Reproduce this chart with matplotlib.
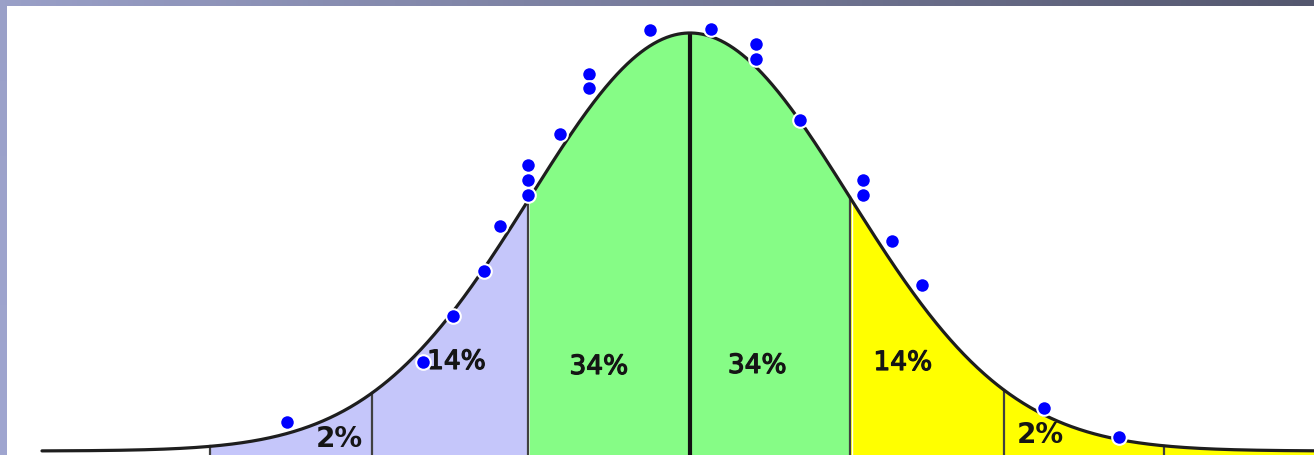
import numpy as np
import matplotlib
matplotlib.use("Agg")
import matplotlib.pyplot as plt
import matplotlib.patheffects as pe

# ---- data (x in standard-deviation units, y in density units) ----
boundaries = [-3.0, -1.99, -1.01, 0.0, 1.0, 1.96, 2.96]   # drawn division lines
region_labels = ["2%", "14%", "34%", "34%", "14%", "2%"]
label_x = [-2.19, -1.46, -0.57, 0.42, 1.33, 2.19]
label_y = [0.0124, 0.0850, 0.0802, 0.0812, 0.0840, 0.0162]

point_x = [-0.25, 0.13, 0.41, 0.41, -0.63, -0.63, -0.81, 0.69, -1.01, -1.01,
           -1.01, 1.08, 1.08, -1.19, 1.26, -1.29, 1.45, -1.48, -1.67, -2.52,
           2.21, 2.68]
point_y = [0.402, 0.403, 0.388, 0.374, 0.360, 0.346, 0.303, 0.316, 0.273, 0.259,
           0.244, 0.259, 0.244, 0.215, 0.200, 0.172, 0.158, 0.129, 0.085, 0.028,
           0.041, 0.013]

curve_start = -4.05

W, H = 1314, 456
fig = plt.figure(figsize=(W / 100, H / 100), dpi=100)
fig.patch.set_facecolor("white")
ax = fig.add_axes([0, 0, 1, 1])
ax.set_xlim(-690 / 160, (W - 690) / 160)
ax.set_ylim(-4 / 1047.8, 452 / 1047.8)
ax.axis("off")

def pdf(z):
    return np.exp(-0.5 * np.asarray(z) ** 2) / np.sqrt(2 * np.pi)

x_right = (W - 690) / 160 + 0.1
z = np.linspace(curve_start, x_right, 1500)

lav, green, yellow = "#c5c6fa", "#86fc86", "#ffff00"
ybot = -0.01
m = (z >= boundaries[0]) & (z <= boundaries[2])
ax.fill_between(z[m], ybot, pdf(z[m]), color=lav, lw=0, zorder=1)
m = (z >= boundaries[2]) & (z <= boundaries[4])
ax.fill_between(z[m], ybot, pdf(z[m]), color=green, lw=0, zorder=1)
m = (z >= boundaries[4])
ax.fill_between(z[m], ybot, pdf(z[m]), color=yellow, lw=0, zorder=1)

# division lines
for b in boundaries:
    if b == 0.0:
        ax.plot([b, b], [ybot, pdf(b)], color="#111111", lw=3.0, zorder=3,
                solid_capstyle="butt")
    else:
        ax.plot([b, b], [ybot, pdf(b)], color="#404040", lw=1.6, zorder=3)
ax.plot([boundaries[4] + 0.012] * 2, [ybot, pdf(boundaries[4]) - 0.004],
        color="white", lw=1.0, zorder=3)

# curve
ax.plot(z, pdf(z), color="#1e1e1e", lw=2.3, zorder=4, solid_capstyle="round")

# labels
for lx, ly, t in zip(label_x, label_y, region_labels):
    bold = t == "2%"
    txt = ax.text(lx, ly, t, ha="center", va="center", color="#151515",
                  fontsize=20 if bold else 19,
                  fontweight="bold" if bold else "normal",
                  family="DejaVu Sans", zorder=5)
    if not bold:
        txt.set_path_effects([pe.withStroke(linewidth=0.9, foreground="#151515")])

# points
ax.plot(point_x, point_y, "o", color="#0000ff", markersize=10.5,
        markeredgecolor="white", markeredgewidth=1.5, zorder=6)

# window border (gradient frame)
top = fig.add_axes([0, 1 - 7 / H, 1, 7 / H])
grad = np.linspace(0, 1, 256)
c0 = np.array([154, 160, 200]) / 255
c1 = np.array([84, 87, 110]) / 255
img = c0[None, :] + (c1 - c0)[None, :] * grad[:, None]
top.imshow(img[None, :, :], aspect="auto", extent=[0, 1, 0, 1])
top.axis("off")

left = fig.add_axes([0, 0, 7 / W, 1 - 7 / H])
c2 = np.array([160, 166, 208]) / 255
img2 = c0[None, :] + (c2 - c0)[None, :] * grad[:, None]
left.imshow(img2[:, None, :], aspect="auto", extent=[0, 1, 0, 1])
left.axis("off")

fig.savefig("out.png", dpi=100, facecolor="white")
